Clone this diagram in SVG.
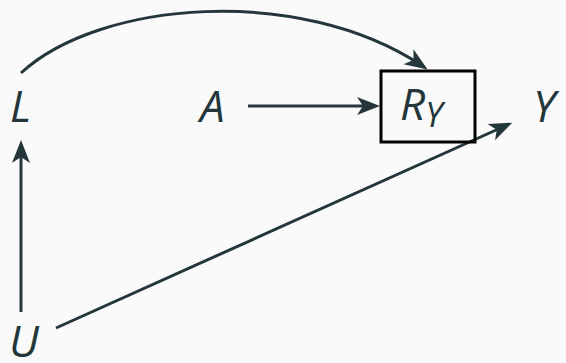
<svg xmlns="http://www.w3.org/2000/svg" width="566" height="363" viewBox="0 0 566 363">
<style>
.t{font-family:"Open Sans","Noto Sans","DejaVu Sans",sans-serif;font-style:italic;font-size:44px;fill:#23373b}
.s{font-size:34px}
.e{fill:none;stroke:#23373b;stroke-width:3}
</style>
<defs>
<marker id="ah" markerUnits="userSpaceOnUse" orient="auto" refX="0" refY="0" markerWidth="40" markerHeight="40" overflow="visible">
<path d="M8,0 L-15,-9 L-9,0 L-15,9 Z" fill="#23373b"/>
</marker>
</defs>
<rect width="566" height="363" fill="#fafafa"/>
<g id="edges">
<path class="e" d="M21,73 C100,0 300,-15 421,65" marker-end="url(#ah)"/>
<path class="e" d="M248,106 L372,106" marker-end="url(#ah)"/>
<path class="e" d="M21,312 L21,148" marker-end="url(#ah)"/>
<path class="e" d="M56,328 L505,126" marker-end="url(#ah)"/>
</g>
<g id="L"><text class="t" x="10" y="122">L</text></g>
<g id="A"><text class="t" x="200" y="122">A</text></g>
<g id="RY">
<rect x="381" y="71" width="94" height="71" fill="none" stroke="#000" stroke-width="3"/>
<text class="t" x="400" y="120">R<tspan class="s" dy="7">Y</tspan></text>
</g>
<g id="Y"><text class="t" x="533" y="122">Y</text></g>
<g id="U"><text class="t" x="9" y="357">U</text></g>
</svg>
